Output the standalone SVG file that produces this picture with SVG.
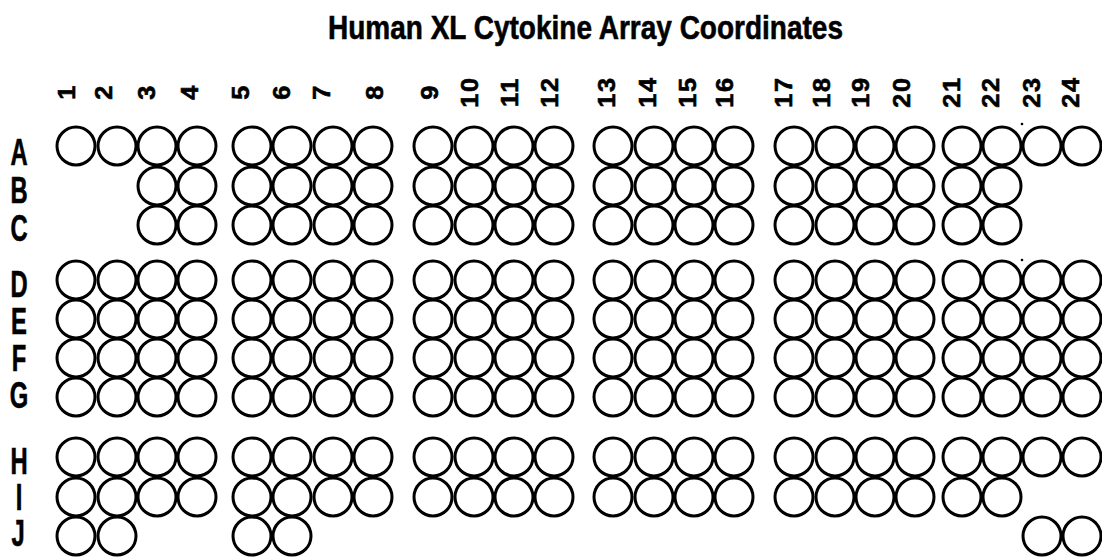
<svg xmlns="http://www.w3.org/2000/svg" width="1102" height="558" viewBox="0 0 1102 558">
<style>
.bg{fill:#fff}
.spot{fill:#fff;stroke:#000;stroke-width:3}
.title{font-family:"Liberation Sans",Arial,sans-serif;font-weight:bold;font-size:34px;fill:#000;stroke:#000;stroke-width:0.6}
.num{font-family:"Liberation Sans",Arial,sans-serif;font-weight:bold;font-size:23px;fill:#000;text-anchor:middle;letter-spacing:1.5px;stroke:#000;stroke-width:0.6}
.row{font-family:"Liberation Sans",Arial,sans-serif;font-weight:bold;font-size:36px;fill:#000;text-anchor:middle;stroke:#000;stroke-width:0.6}
.dot{fill:#000}
</style>
<rect class="bg" width="1102" height="558"/>
<text id="title" class="title" x="328" y="39" textLength="515" lengthAdjust="spacingAndGlyphs">Human XL Cytokine Array Coordinates</text>
<g id="col-labels">
<text class="num" transform="translate(75,92) rotate(-90) scale(1.1,1)">1</text>
<text class="num" transform="translate(112,92) rotate(-90) scale(1.1,1)">2</text>
<text class="num" transform="translate(155,92) rotate(-90) scale(1.1,1)">3</text>
<text class="num" transform="translate(198,92) rotate(-90) scale(1.1,1)">4</text>
<text class="num" transform="translate(249,92) rotate(-90) scale(1.1,1)">5</text>
<text class="num" transform="translate(290,92) rotate(-90) scale(1.1,1)">6</text>
<text class="num" transform="translate(330,92) rotate(-90) scale(1.1,1)">7</text>
<text class="num" transform="translate(383,92) rotate(-90) scale(1.1,1)">8</text>
<text class="num" transform="translate(438,92) rotate(-90) scale(1.1,1)">9</text>
<text class="num" transform="translate(478,92) rotate(-90) scale(1.1,1)">10</text>
<text class="num" transform="translate(518,92) rotate(-90) scale(1.1,1)">11</text>
<text class="num" transform="translate(558,92) rotate(-90) scale(1.1,1)">12</text>
<text class="num" transform="translate(615,92) rotate(-90) scale(1.1,1)">13</text>
<text class="num" transform="translate(656,92) rotate(-90) scale(1.1,1)">14</text>
<text class="num" transform="translate(696,92) rotate(-90) scale(1.1,1)">15</text>
<text class="num" transform="translate(733,92) rotate(-90) scale(1.1,1)">16</text>
<text class="num" transform="translate(792,92) rotate(-90) scale(1.1,1)">17</text>
<text class="num" transform="translate(830,92) rotate(-90) scale(1.1,1)">18</text>
<text class="num" transform="translate(869,92) rotate(-90) scale(1.1,1)">19</text>
<text class="num" transform="translate(910,92) rotate(-90) scale(1.1,1)">20</text>
<text class="num" transform="translate(960,92) rotate(-90) scale(1.1,1)">21</text>
<text class="num" transform="translate(999,92) rotate(-90) scale(1.1,1)">22</text>
<text class="num" transform="translate(1040,92) rotate(-90) scale(1.1,1)">23</text>
<text class="num" transform="translate(1079,92) rotate(-90) scale(1.1,1)">24</text>
</g>
<g id="row-labels">
<text class="row" transform="translate(19,165) scale(0.66,1)">A</text>
<text class="row" transform="translate(19,203) scale(0.66,1)">B</text>
<text class="row" transform="translate(19,241) scale(0.66,1)">C</text>
<text class="row" transform="translate(19,297) scale(0.66,1)">D</text>
<text class="row" transform="translate(19,334) scale(0.66,1)">E</text>
<text class="row" transform="translate(19,371) scale(0.66,1)">F</text>
<text class="row" transform="translate(19,408) scale(0.66,1)">G</text>
<text class="row" transform="translate(19,474) scale(0.66,1)">H</text>
<text class="row" transform="translate(19,510) scale(0.66,1)">I</text>
<text class="row" transform="translate(18,546) scale(0.66,1)">J</text>
</g>
<g id="row-A">
<circle id="A1" class="spot" cx="76" cy="146" r="19"/><circle id="A2" class="spot" cx="117" cy="146" r="19"/><circle id="A3" class="spot" cx="157" cy="146" r="19"/><circle id="A4" class="spot" cx="197" cy="146" r="19"/>
<circle id="A5" class="spot" cx="252" cy="146" r="19"/><circle id="A6" class="spot" cx="292" cy="146" r="19"/><circle id="A7" class="spot" cx="333" cy="146" r="19"/><circle id="A8" class="spot" cx="373" cy="146" r="19"/>
<circle id="A9" class="spot" cx="433" cy="146" r="19"/><circle id="A10" class="spot" cx="474" cy="146" r="19"/><circle id="A11" class="spot" cx="514" cy="146" r="19"/><circle id="A12" class="spot" cx="554" cy="146" r="19"/>
<circle id="A13" class="spot" cx="613" cy="146" r="19"/><circle id="A14" class="spot" cx="654" cy="146" r="19"/><circle id="A15" class="spot" cx="694" cy="146" r="19"/><circle id="A16" class="spot" cx="734" cy="146" r="19"/>
<circle id="A17" class="spot" cx="794" cy="146" r="19"/><circle id="A18" class="spot" cx="835" cy="146" r="19"/><circle id="A19" class="spot" cx="875" cy="146" r="19"/><circle id="A20" class="spot" cx="915" cy="146" r="19"/>
<circle id="A21" class="spot" cx="962" cy="146" r="19"/><circle id="A22" class="spot" cx="1002" cy="146" r="19"/><circle id="A23" class="spot" cx="1042" cy="146" r="19"/><circle id="A24" class="spot" cx="1082" cy="146" r="19"/>
</g>
<g id="row-B">
<circle id="B3" class="spot" cx="157" cy="186" r="19"/><circle id="B4" class="spot" cx="197" cy="186" r="19"/>
<circle id="B5" class="spot" cx="252" cy="186" r="19"/><circle id="B6" class="spot" cx="292" cy="186" r="19"/><circle id="B7" class="spot" cx="333" cy="186" r="19"/><circle id="B8" class="spot" cx="373" cy="186" r="19"/>
<circle id="B9" class="spot" cx="433" cy="186" r="19"/><circle id="B10" class="spot" cx="474" cy="186" r="19"/><circle id="B11" class="spot" cx="514" cy="186" r="19"/><circle id="B12" class="spot" cx="554" cy="186" r="19"/>
<circle id="B13" class="spot" cx="613" cy="186" r="19"/><circle id="B14" class="spot" cx="654" cy="186" r="19"/><circle id="B15" class="spot" cx="694" cy="186" r="19"/><circle id="B16" class="spot" cx="734" cy="186" r="19"/>
<circle id="B17" class="spot" cx="794" cy="186" r="19"/><circle id="B18" class="spot" cx="835" cy="186" r="19"/><circle id="B19" class="spot" cx="875" cy="186" r="19"/><circle id="B20" class="spot" cx="915" cy="186" r="19"/>
<circle id="B21" class="spot" cx="962" cy="186" r="19"/><circle id="B22" class="spot" cx="1002" cy="186" r="19"/>
</g>
<g id="row-C">
<circle id="C3" class="spot" cx="157" cy="225" r="19"/><circle id="C4" class="spot" cx="197" cy="225" r="19"/>
<circle id="C5" class="spot" cx="252" cy="225" r="19"/><circle id="C6" class="spot" cx="292" cy="225" r="19"/><circle id="C7" class="spot" cx="333" cy="225" r="19"/><circle id="C8" class="spot" cx="373" cy="225" r="19"/>
<circle id="C9" class="spot" cx="433" cy="225" r="19"/><circle id="C10" class="spot" cx="474" cy="225" r="19"/><circle id="C11" class="spot" cx="514" cy="225" r="19"/><circle id="C12" class="spot" cx="554" cy="225" r="19"/>
<circle id="C13" class="spot" cx="613" cy="225" r="19"/><circle id="C14" class="spot" cx="654" cy="225" r="19"/><circle id="C15" class="spot" cx="694" cy="225" r="19"/><circle id="C16" class="spot" cx="734" cy="225" r="19"/>
<circle id="C17" class="spot" cx="794" cy="225" r="19"/><circle id="C18" class="spot" cx="835" cy="225" r="19"/><circle id="C19" class="spot" cx="875" cy="225" r="19"/><circle id="C20" class="spot" cx="915" cy="225" r="19"/>
<circle id="C21" class="spot" cx="962" cy="225" r="19"/><circle id="C22" class="spot" cx="1002" cy="225" r="19"/>
</g>
<g id="row-D">
<circle id="D1" class="spot" cx="76" cy="280" r="19"/><circle id="D2" class="spot" cx="117" cy="280" r="19"/><circle id="D3" class="spot" cx="157" cy="280" r="19"/><circle id="D4" class="spot" cx="197" cy="280" r="19"/>
<circle id="D5" class="spot" cx="252" cy="280" r="19"/><circle id="D6" class="spot" cx="292" cy="280" r="19"/><circle id="D7" class="spot" cx="333" cy="280" r="19"/><circle id="D8" class="spot" cx="373" cy="280" r="19"/>
<circle id="D9" class="spot" cx="433" cy="280" r="19"/><circle id="D10" class="spot" cx="474" cy="280" r="19"/><circle id="D11" class="spot" cx="514" cy="280" r="19"/><circle id="D12" class="spot" cx="554" cy="280" r="19"/>
<circle id="D13" class="spot" cx="613" cy="280" r="19"/><circle id="D14" class="spot" cx="654" cy="280" r="19"/><circle id="D15" class="spot" cx="694" cy="280" r="19"/><circle id="D16" class="spot" cx="734" cy="280" r="19"/>
<circle id="D17" class="spot" cx="794" cy="280" r="19"/><circle id="D18" class="spot" cx="835" cy="280" r="19"/><circle id="D19" class="spot" cx="875" cy="280" r="19"/><circle id="D20" class="spot" cx="915" cy="280" r="19"/>
<circle id="D21" class="spot" cx="962" cy="280" r="19"/><circle id="D22" class="spot" cx="1002" cy="280" r="19"/><circle id="D23" class="spot" cx="1042" cy="280" r="19"/><circle id="D24" class="spot" cx="1082" cy="280" r="19"/>
</g>
<g id="row-E">
<circle id="E1" class="spot" cx="76" cy="319" r="19"/><circle id="E2" class="spot" cx="117" cy="319" r="19"/><circle id="E3" class="spot" cx="157" cy="319" r="19"/><circle id="E4" class="spot" cx="197" cy="319" r="19"/>
<circle id="E5" class="spot" cx="252" cy="319" r="19"/><circle id="E6" class="spot" cx="292" cy="319" r="19"/><circle id="E7" class="spot" cx="333" cy="319" r="19"/><circle id="E8" class="spot" cx="373" cy="319" r="19"/>
<circle id="E9" class="spot" cx="433" cy="319" r="19"/><circle id="E10" class="spot" cx="474" cy="319" r="19"/><circle id="E11" class="spot" cx="514" cy="319" r="19"/><circle id="E12" class="spot" cx="554" cy="319" r="19"/>
<circle id="E13" class="spot" cx="613" cy="319" r="19"/><circle id="E14" class="spot" cx="654" cy="319" r="19"/><circle id="E15" class="spot" cx="694" cy="319" r="19"/><circle id="E16" class="spot" cx="734" cy="319" r="19"/>
<circle id="E17" class="spot" cx="794" cy="319" r="19"/><circle id="E18" class="spot" cx="835" cy="319" r="19"/><circle id="E19" class="spot" cx="875" cy="319" r="19"/><circle id="E20" class="spot" cx="915" cy="319" r="19"/>
<circle id="E21" class="spot" cx="962" cy="319" r="19"/><circle id="E22" class="spot" cx="1002" cy="319" r="19"/><circle id="E23" class="spot" cx="1042" cy="319" r="19"/><circle id="E24" class="spot" cx="1082" cy="319" r="19"/>
</g>
<g id="row-F">
<circle id="F1" class="spot" cx="76" cy="358" r="19"/><circle id="F2" class="spot" cx="117" cy="358" r="19"/><circle id="F3" class="spot" cx="157" cy="358" r="19"/><circle id="F4" class="spot" cx="197" cy="358" r="19"/>
<circle id="F5" class="spot" cx="252" cy="358" r="19"/><circle id="F6" class="spot" cx="292" cy="358" r="19"/><circle id="F7" class="spot" cx="333" cy="358" r="19"/><circle id="F8" class="spot" cx="373" cy="358" r="19"/>
<circle id="F9" class="spot" cx="433" cy="358" r="19"/><circle id="F10" class="spot" cx="474" cy="358" r="19"/><circle id="F11" class="spot" cx="514" cy="358" r="19"/><circle id="F12" class="spot" cx="554" cy="358" r="19"/>
<circle id="F13" class="spot" cx="613" cy="358" r="19"/><circle id="F14" class="spot" cx="654" cy="358" r="19"/><circle id="F15" class="spot" cx="694" cy="358" r="19"/><circle id="F16" class="spot" cx="734" cy="358" r="19"/>
<circle id="F17" class="spot" cx="794" cy="358" r="19"/><circle id="F18" class="spot" cx="835" cy="358" r="19"/><circle id="F19" class="spot" cx="875" cy="358" r="19"/><circle id="F20" class="spot" cx="915" cy="358" r="19"/>
<circle id="F21" class="spot" cx="962" cy="358" r="19"/><circle id="F22" class="spot" cx="1002" cy="358" r="19"/><circle id="F23" class="spot" cx="1042" cy="358" r="19"/><circle id="F24" class="spot" cx="1082" cy="358" r="19"/>
</g>
<g id="row-G">
<circle id="G1" class="spot" cx="76" cy="397" r="19"/><circle id="G2" class="spot" cx="117" cy="397" r="19"/><circle id="G3" class="spot" cx="157" cy="397" r="19"/><circle id="G4" class="spot" cx="197" cy="397" r="19"/>
<circle id="G5" class="spot" cx="252" cy="397" r="19"/><circle id="G6" class="spot" cx="292" cy="397" r="19"/><circle id="G7" class="spot" cx="333" cy="397" r="19"/><circle id="G8" class="spot" cx="373" cy="397" r="19"/>
<circle id="G9" class="spot" cx="433" cy="397" r="19"/><circle id="G10" class="spot" cx="474" cy="397" r="19"/><circle id="G11" class="spot" cx="514" cy="397" r="19"/><circle id="G12" class="spot" cx="554" cy="397" r="19"/>
<circle id="G13" class="spot" cx="613" cy="397" r="19"/><circle id="G14" class="spot" cx="654" cy="397" r="19"/><circle id="G15" class="spot" cx="694" cy="397" r="19"/><circle id="G16" class="spot" cx="734" cy="397" r="19"/>
<circle id="G17" class="spot" cx="794" cy="397" r="19"/><circle id="G18" class="spot" cx="835" cy="397" r="19"/><circle id="G19" class="spot" cx="875" cy="397" r="19"/><circle id="G20" class="spot" cx="915" cy="397" r="19"/>
<circle id="G21" class="spot" cx="962" cy="397" r="19"/><circle id="G22" class="spot" cx="1002" cy="397" r="19"/><circle id="G23" class="spot" cx="1042" cy="397" r="19"/><circle id="G24" class="spot" cx="1082" cy="397" r="19"/>
</g>
<g id="row-H">
<circle id="H1" class="spot" cx="76" cy="457" r="19"/><circle id="H2" class="spot" cx="117" cy="457" r="19"/><circle id="H3" class="spot" cx="157" cy="457" r="19"/><circle id="H4" class="spot" cx="197" cy="457" r="19"/>
<circle id="H5" class="spot" cx="252" cy="457" r="19"/><circle id="H6" class="spot" cx="292" cy="457" r="19"/><circle id="H7" class="spot" cx="333" cy="457" r="19"/><circle id="H8" class="spot" cx="373" cy="457" r="19"/>
<circle id="H9" class="spot" cx="433" cy="457" r="19"/><circle id="H10" class="spot" cx="474" cy="457" r="19"/><circle id="H11" class="spot" cx="514" cy="457" r="19"/><circle id="H12" class="spot" cx="554" cy="457" r="19"/>
<circle id="H13" class="spot" cx="613" cy="457" r="19"/><circle id="H14" class="spot" cx="654" cy="457" r="19"/><circle id="H15" class="spot" cx="694" cy="457" r="19"/><circle id="H16" class="spot" cx="734" cy="457" r="19"/>
<circle id="H17" class="spot" cx="794" cy="457" r="19"/><circle id="H18" class="spot" cx="835" cy="457" r="19"/><circle id="H19" class="spot" cx="875" cy="457" r="19"/><circle id="H20" class="spot" cx="915" cy="457" r="19"/>
<circle id="H21" class="spot" cx="962" cy="457" r="19"/><circle id="H22" class="spot" cx="1002" cy="457" r="19"/><circle id="H23" class="spot" cx="1042" cy="457" r="19"/><circle id="H24" class="spot" cx="1082" cy="457" r="19"/>
</g>
<g id="row-I">
<circle id="I1" class="spot" cx="76" cy="497" r="19"/><circle id="I2" class="spot" cx="117" cy="497" r="19"/><circle id="I3" class="spot" cx="157" cy="497" r="19"/><circle id="I4" class="spot" cx="197" cy="497" r="19"/>
<circle id="I5" class="spot" cx="252" cy="497" r="19"/><circle id="I6" class="spot" cx="292" cy="497" r="19"/><circle id="I7" class="spot" cx="333" cy="497" r="19"/><circle id="I8" class="spot" cx="373" cy="497" r="19"/>
<circle id="I9" class="spot" cx="433" cy="497" r="19"/><circle id="I10" class="spot" cx="474" cy="497" r="19"/><circle id="I11" class="spot" cx="514" cy="497" r="19"/><circle id="I12" class="spot" cx="554" cy="497" r="19"/>
<circle id="I13" class="spot" cx="613" cy="497" r="19"/><circle id="I14" class="spot" cx="654" cy="497" r="19"/><circle id="I15" class="spot" cx="694" cy="497" r="19"/><circle id="I16" class="spot" cx="734" cy="497" r="19"/>
<circle id="I17" class="spot" cx="794" cy="497" r="19"/><circle id="I18" class="spot" cx="835" cy="497" r="19"/><circle id="I19" class="spot" cx="875" cy="497" r="19"/><circle id="I20" class="spot" cx="915" cy="497" r="19"/>
<circle id="I21" class="spot" cx="962" cy="497" r="19"/><circle id="I22" class="spot" cx="1002" cy="497" r="19"/>
</g>
<g id="row-J">
<circle id="J1" class="spot" cx="76" cy="536" r="19"/><circle id="J2" class="spot" cx="117" cy="536" r="19"/>
<circle id="J5" class="spot" cx="252" cy="536" r="19"/><circle id="J6" class="spot" cx="292" cy="536" r="19"/>
<circle id="J23" class="spot" cx="1042" cy="536" r="19"/><circle id="J24" class="spot" cx="1082" cy="536" r="19"/>
</g>
<g id="specks">
<circle class="dot" cx="1022" cy="124" r="1.3"/>
<circle class="dot" cx="1022" cy="260" r="1.3"/>
</g>
</svg>
